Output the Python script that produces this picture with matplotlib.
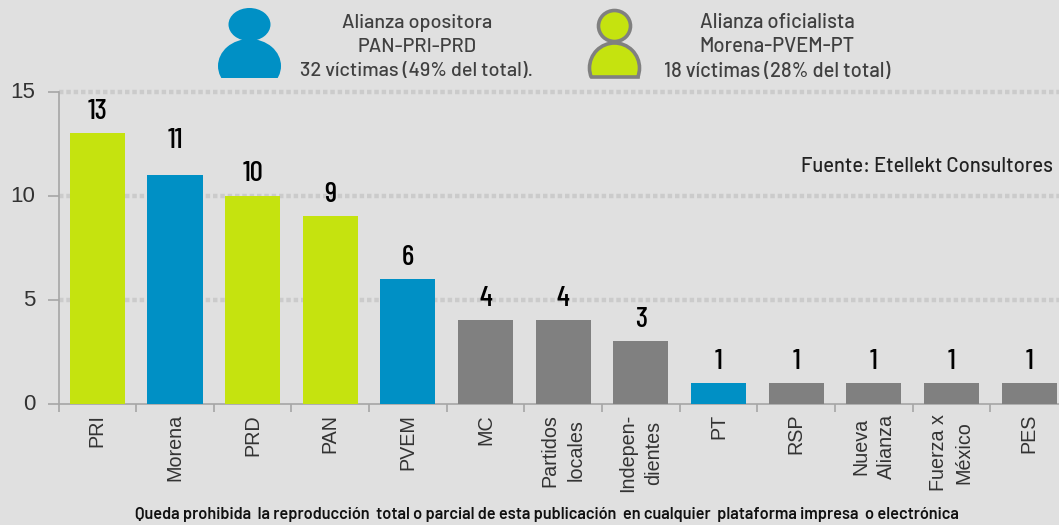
import matplotlib
matplotlib.use('Agg')
import matplotlib.pyplot as plt
from matplotlib.patches import Ellipse, Rectangle
from matplotlib.transforms import ScaledTranslation

partidos = ["PRI", "Morena", "PRD", "PAN", "PVEM", "MC", "Partidos\nlocales", "Indepen-\ndientes",
            "PT", "RSP", "Nueva\nAlianza", "Fuerza x\nMéxico", "PES"]
victimas = [13, 11, 10, 9, 6, 4, 4, 3, 1, 1, 1, 1, 1]
grupos = ["verde", "azul", "verde", "verde", "azul", "gris", "gris", "gris", "azul", "gris", "gris", "gris", "gris"]
colores = {"verde": "#C5E30F", "azul": "#0090C5", "gris": "#808080"}
y_ticks = [0, 5, 10, 15]

alianza_op = "Alianza opositora\nPAN-PRI-PRD\n32 víctimas (49% del total)."
alianza_of = "Alianza oficialista\nMorena-PVEM-PT\n18 víctimas (28% del total)"
fuente = "Fuente: Etellekt Consultores"
aviso = "Queda prohibida  la reproducción  total o parcial de esta publicación  en cualquier  plataforma impresa  o electrónica"

W, H = 1059, 525
fondo = "#E0E0E0"
gris_eje = "#A6A6A6"
f_titulo = ["Barlow", "DejaVu Sans"]
f_numero = ["Barlow Condensed", "DejaVu Sans"]
f_ejes = ["Liberation Sans", "DejaVu Sans"]
plt.rcParams['font.family'] = f_ejes

fig = plt.figure(figsize=(W / 100, H / 100), dpi=100, facecolor=fondo)
ax = fig.add_axes([58.5 / W, 1 - 403.5 / H, 13 * 77.65 / W, (403.5 - 91.5) / H], facecolor=fondo)

x = list(range(len(partidos)))
ax.bar(x, victimas, width=0.71, color=[colores[g] for g in grupos], edgecolor="none", zorder=3)
for i, v in zip(x, victimas):
    # la etiqueta del 11 va mas alta en el original
    extra = 0.58 if v == 11 else 0
    ax.text(i, v + 0.68 + extra, str(v), ha="center", va="baseline", fontsize=21, fontweight=500,
            family=f_numero, color="black", zorder=4)

ax.set_xlim(-0.5, len(partidos) - 0.5)
ax.set_ylim(0, 15)
ax.set_yticks(y_ticks)
ax.yaxis.grid(True, color="#CBCBCB", lw=3.2, dashes=(1, 0.65), zorder=1)
ax.set_axisbelow(True)
for g in ax.get_ygridlines():
    g.set_clip_on(False)
    g.set_dash_capstyle("butt")
ax.get_ygridlines()[0].set_visible(False)

ax.set_xticks([i - 0.5 for i in range(len(partidos) + 1)], minor=True)
ax.set_xticks(x)
ax.set_xticklabels(partidos, rotation=90, ha="center", va="top", fontsize=14.2, color="#333333",
                   linespacing=1.45, multialignment="center")
ax.tick_params(axis="x", which="major", length=0, pad=7.5)
ax.tick_params(axis="x", which="minor", length=6, width=1.2, color=gris_eje)
ax.tick_params(axis="y", length=8, width=1.2, color=gris_eje, labelsize=16, labelcolor="#333333", pad=8.5)
# los numeros del eje y quedan un poco mas arriba en el original
subir = ScaledTranslation(0, 1.5 / 100, fig.dpi_scale_trans)
for t in ax.get_yticklabels():
    t.set_transform(t.get_transform() + subir)
for lado in ["top", "right"]:
    ax.spines[lado].set_visible(False)
for lado in ["left", "bottom"]:
    ax.spines[lado].set_color(gris_eje)
    ax.spines[lado].set_linewidth(1.2)

# iconos de las alianzas, en pixeles de la figura
over = fig.add_axes([0, 0, 1, 1], facecolor="none")
over.set_xlim(0, W)
over.set_ylim(H, 0)
over.axis("off")


def persona(cx, ancho, alto, ancho_cab, alto_cab, y_cab, y_cuerpo, color, borde):
    ec = borde if borde else color
    lw = 2.6 if borde else 0
    base = Rectangle((cx - 40, 30), 80, 47.5, transform=over.transData)
    cuerpo = Ellipse((cx, y_cuerpo + alto / 2), ancho, alto, fc=color, ec=ec, lw=lw)
    over.add_patch(cuerpo)
    cuerpo.set_clip_path(base)
    if borde:
        over.plot([cx - 23, cx + 23], [76.5, 76.5], color=borde, lw=2.6)
    over.add_patch(Ellipse((cx, y_cab), ancho_cab, alto_cab, fc=color, ec=ec, lw=lw))


persona(249.5, 63, 54, 42, 33, 24.5, 39, colores["azul"], None)
persona(614.5, 50, 50, 32, 31, 26, 43, colores["verde"], "#808080")

texto = "#404040"
over.text(417, 47, alianza_op, ha="center", va="center", fontsize=14.3, color=texto, linespacing=1.4,
          fontweight=500, family=f_titulo)
over.text(777, 47, alianza_of, ha="center", va="center", fontsize=14.5, color=texto, linespacing=1.38,
          fontweight=500, family=f_titulo)
over.text(1053, 167, fuente, ha="right", va="center", fontsize=14.5, color="#222222", fontweight=500, family=f_titulo)
over.text(547, 515, aviso, ha="center", va="center", fontsize=11.75, fontweight=600, color="#111111",
          family=f_titulo)

fig.savefig("out.png", dpi=100, facecolor=fondo)
